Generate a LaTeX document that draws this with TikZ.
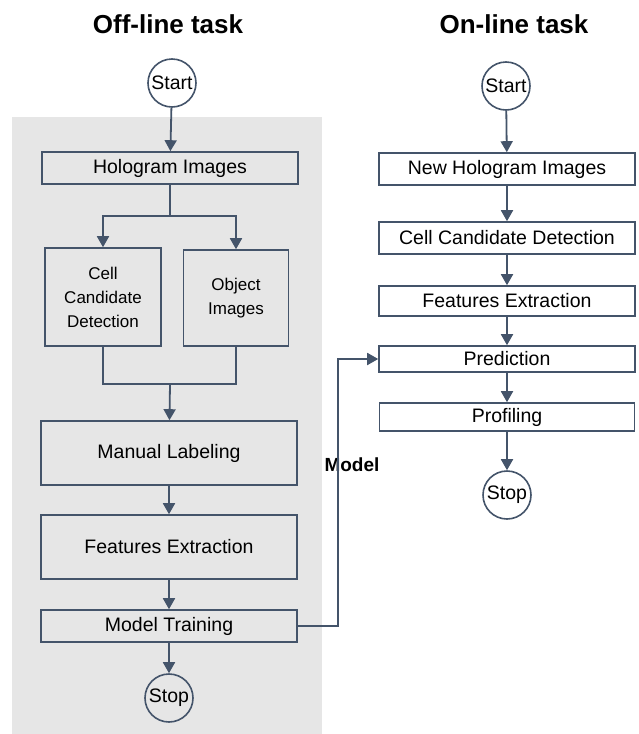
\documentclass[tikz,border=0pt]{standalone}
\usepackage{fontspec}
\setmainfont{Liberation Sans}
\usetikzlibrary{arrows.meta}
\definecolor{linecol}{RGB}{68,84,106}
\definecolor{bggray}{RGB}{230,230,230}
\tikzset{
  >={Triangle[length=11pt,width=12pt]},
  stepbox/.style={draw=linecol, line width=1.6pt, rectangle, inner sep=0pt,
    font=\fontsize{19.5}{24}\selectfont},
  termbox/.style={draw=linecol, line width=1.6pt, circle, inner sep=0pt,
    minimum size=48pt, font=\fontsize{19.5}{24}\selectfont},
  titletext/.style={font=\fontsize{26}{30}\selectfont\bfseries},
  flow/.style={draw=linecol, line width=1.8pt}
}
\begin{document}
\begin{tikzpicture}[x=1pt, y=-1pt]
\useasboundingbox (0,0) rectangle (639,734);
\fill[bggray] (12,117) rectangle (322,734);

\node[titletext] (offtitle) at (168,24) {Off-line task};
\node[titletext] (ontitle) at (514,24) {On-line task};

% off-line
\node[termbox] (ostart) at (172,83) {Start};
\node[stepbox, minimum width=256pt, minimum height=32pt] (holo) at (170,168) {Hologram Images};
\node[stepbox, minimum width=116pt, minimum height=98pt, align=center,
  font=\fontsize{17}{24}\selectfont] (ccd) at (103,297) {Cell\\Candidate\\Detection};
\node[stepbox, minimum width=105pt, minimum height=96pt, align=center,
  font=\fontsize{17}{24}\selectfont] (obj) at (236,298) {Object\\Images};
\node[stepbox, minimum width=256pt, minimum height=64pt] (label) at (169,453) {Manual Labeling};
\node[stepbox, minimum width=256pt, minimum height=64pt] (feat) at (169,547) {Features Extraction};
\node[stepbox, minimum width=256pt, minimum height=32pt] (train) at (169,626) {Model Training};
\node[termbox] (ostop) at (169,698) {Stop};
\coordinate (split) at (170,216);
\coordinate (join) at (170,384);
\coordinate (mcorner) at (338,626);

% on-line
\node[termbox] (nstart) at (506,86) {Start};
\node[stepbox, minimum width=256pt, minimum height=32pt] (nholo) at (507,169) {New Hologram Images};
\node[stepbox, minimum width=256pt, minimum height=32pt] (nccd) at (507,238) {Cell Candidate Detection};
\node[stepbox, minimum width=256pt, minimum height=30pt] (nfeat) at (507,301) {Features Extraction};
\node[stepbox, minimum width=256pt, minimum height=26pt] (pred) at (507,359) {Prediction};
\node[stepbox, minimum width=255pt, minimum height=28pt] (prof) at (507,417) {Profiling};
\node[termbox] (nstop) at (507,495) {Stop};

\node[font=\fontsize{19}{22}\selectfont\bfseries] (modeltext) at (352,465) {Model};

\draw[flow, ->] (ostart)--(holo);
\draw[flow] (holo)--(split);
\draw[flow, ->] (split) -| (ccd);
\draw[flow, ->] (split) -| (obj);
\draw[flow] (ccd) |- (join);
\draw[flow] (obj) |- (join);
\draw[flow, ->] (join)--(label);
\draw[flow, ->] (label)--(feat);
\draw[flow, ->] (feat)--(train);
\draw[flow, ->] (train)--(ostop);
\draw[flow, ->] (train)--(mcorner) |- (pred);

\draw[flow, ->] (nstart)--(nholo);
\draw[flow, ->] (nholo)--(nccd);
\draw[flow, ->] (nccd)--(nfeat);
\draw[flow, ->] (nfeat)--(pred);
\draw[flow, ->] (pred)--(prof);
\draw[flow, ->] (prof)--(nstop);
\end{tikzpicture}
\end{document}
